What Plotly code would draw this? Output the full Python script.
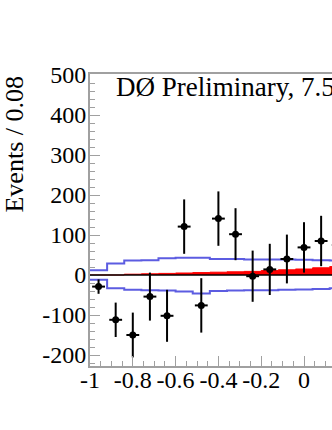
import plotly.graph_objects as go

# bins of 0.08 from -1, only the part that shows in the picture
bin_edges = [-1.0, -0.92, -0.84, -0.76, -0.68, -0.60, -0.52, -0.44, -0.36,
             -0.28, -0.20, -0.12, -0.04, 0.04, 0.12, 0.20]
bin_centers = [-0.96, -0.88, -0.80, -0.72, -0.64, -0.56, -0.48, -0.40,
               -0.32, -0.24, -0.16, -0.08, 0.0, 0.08, 0.16]

# data (background subtracted)
data_y = [-29, -112, -150, -54, -102, 121, -76, 141, 102, -3, 14, 40, 69, 85, 75]
data_err = [18, 43, 56, 60, 65, 68, 68, 68, 65, 64, 64, 61, 63, 63, 63]
data_xerr = [0.03] * len(bin_centers)

# signal (red) and uncertainty band (blue)
signal = [0, 0, 2, 3, 4, 5, 6, 7, 8, 9, 11, 13, 15, 18, 21]
band_up = [12, 29, 36, 37, 42, 43, 43, 40, 40, 39, 39, 39, 38, 37, 36]
band_down = [-12, -33, -37, -38, -39, -41, -46, -40, -39, -38, -38, -37, -36, -35, -33]

x_ticks = [-1, -0.8, -0.6, -0.4, -0.2, 0]
x_labels = ["-1", "-0.8", "-0.6", "-0.4", "-0.2", "0"]
y_ticks = [-200, -100, 0, 100, 200, 300, 400, 500]
y_labels = ["-200", "-100", "0", "100", "200", "300", "400", "500"]

FONT = "Liberation Serif"
GREY = "#a0a0a0"
BLUE = "rgb(92,92,225)"


def steps(vals):
    # repeat last value so the hv step reaches the last edge
    return list(vals) + [vals[-1]]


fig = go.Figure()

fig.add_trace(go.Scatter(x=bin_edges, y=steps(signal), mode="lines",
                         line=dict(shape="hv", color="red", width=1),
                         fill="tozeroy", fillcolor="red", hoverinfo="skip"))
fig.add_trace(go.Scatter(x=bin_edges, y=steps(band_up), mode="lines",
                         line=dict(shape="hv", color=BLUE, width=2)))
fig.add_trace(go.Scatter(x=bin_edges, y=steps(band_down), mode="lines",
                         line=dict(shape="hv", color=BLUE, width=2)))

# zero line on top of the red fill
fig.add_shape(type="line", xref="x", yref="y", x0=bin_edges[0], x1=bin_edges[-1],
              y0=0, y1=0, line=dict(color="black", width=1.5), layer="above")

fig.add_trace(go.Scatter(x=bin_centers, y=data_y, mode="markers",
                         marker=dict(color="black", size=7),
                         error_y=dict(type="data", array=data_err, color="black",
                                      thickness=2, width=0),
                         error_x=dict(type="data", array=data_xerr, color="black",
                                      thickness=2, width=0)))

fig.add_annotation(text="DØ Preliminary, 7.5 fb<sup>-1</sup>", xref="paper", yref="paper",
                   x=0.0992, y=1.027, xanchor="left", yanchor="top", showarrow=False,
                   font=dict(family=FONT, size=27, color="black"))
fig.add_annotation(text="Events / 0.08", xref="paper", yref="paper",
                   x=-0.314, y=1.0, xanchor="center", yanchor="top", textangle=-90,
                   showarrow=False, font=dict(family=FONT, size=26, color="black"))

fig.update_layout(
    width=332, height=430,
    margin=dict(l=90, r=0, t=74, b=64),
    paper_bgcolor="white", plot_bgcolor="white",
    showlegend=False,
    font=dict(family=FONT, size=24, color="black"),
)
fig.update_xaxes(range=[-1, 0.1308], showgrid=False, zeroline=False,
                 showline=True, linecolor=GREY, linewidth=2, mirror=True,
                 tickmode="array", tickvals=x_ticks, ticktext=x_labels,
                 ticks="inside", ticklen=10, tickcolor=GREY, tickwidth=1,
                 ticklabelstandoff=-9,
                 minor=dict(ticks="inside", tick0=-1, dtick=0.05, ticklen=5,
                            tickcolor=GREY, tickwidth=1),
                 tickfont=dict(family=FONT, size=24, color="black"))
fig.update_yaxes(range=[-227.5, 502.5], showgrid=False, zeroline=False,
                 showline=True, linecolor=GREY, linewidth=2, mirror=False,
                 tickmode="array", tickvals=y_ticks, ticktext=y_labels,
                 ticks="inside", ticklen=10, tickcolor=GREY, tickwidth=1,
                 ticklabelstandoff=-3,
                 minor=dict(ticks="inside", tick0=0, dtick=20, ticklen=5,
                            tickcolor=GREY, tickwidth=1),
                 tickfont=dict(family=FONT, size=24, color="black"))

# drop the default 8px body margin so the figure sits at the window corner
fig.write_html("out.html", config={"displayModeBar": False},
               post_script="document.body.style.margin = '0';")
